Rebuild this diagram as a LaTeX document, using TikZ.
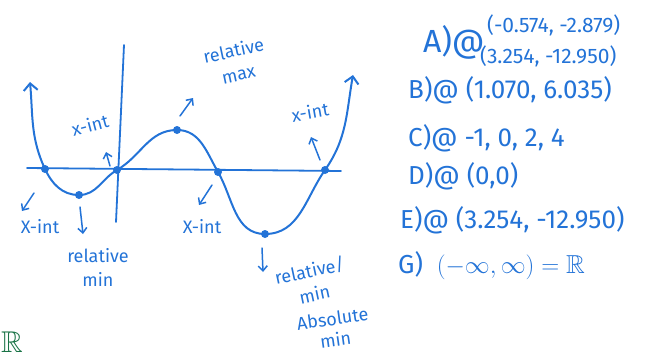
\documentclass[tikz,border=0pt]{standalone}
\usepackage{amssymb}
\usepackage{fontspec}
\setmainfont{Fira Sans}
\usetikzlibrary{arrows.meta}
\definecolor{pen}{RGB}{35,115,215}
\definecolor{greenpen}{RGB}{25,115,70}
\tikzset{
  curve/.style   = {draw=pen, line width=2pt, line cap=round},
  axis/.style    = {draw=pen, line width=1.8pt, line cap=round},
  ptdot/.style   = {circle, fill=pen, inner sep=0pt, minimum size=8pt},
  pointer/.style = {-{Straight Barb[length=5pt,width=9pt]}, draw=pen,
                    line width=1.5pt, line cap=round},
  note/.style    = {text=pen, font=\fontsize{18}{24}\selectfont,
                    align=center, inner sep=0pt},
  ans/.style     = {text=pen, font=\fontsize{26}{30}\selectfont,
                    anchor=west, inner sep=0pt},
}

\begin{document}
\begin{tikzpicture}[x=1pt,y=1pt]
\useasboundingbox (0,0) rectangle (650,-356);
% axes
\coordinate (xl) at (27,-168); \coordinate (xr) at (341,-171);
\coordinate (yt) at (124,-45); \coordinate (yb) at (116,-222);
\draw[axis] (xl) -- (xr);
\draw[axis] (yt) -- (yb);
% points on the graph
\coordinate (tl) at (30,-82); \coordinate (tr) at (353,-75);
\node[ptdot] (xa)  at (45,-169)  {};
\node[ptdot] (mna) at (79,-195)  {};
\node[ptdot] (o)   at (117,-170) {};
\node[ptdot] (mx)  at (177,-130) {};
\node[ptdot] (xb)  at (218,-172) {};
\node[ptdot] (mnb) at (265,-234) {};
\node[ptdot] (xc)  at (325,-170) {};
\draw[curve, {Straight Barb[length=7pt,width=14pt]}-{Straight Barb[length=7pt,width=14pt]}]
  (tl) to[out=-85,in=115] (xa.center) to[out=-65,in=180] (mna.center)
  to[out=0,in=210] (o.center) to[out=30,in=180] (mx.center)
  to[out=0,in=120] (xb.center) to[out=-60,in=180] (mnb.center)
  to[out=0,in=235] (xc.center) to[out=55,in=260] (tr);
% labels
\node[note] (lxa) at (40,-227) {X-int};
\node[note] (lmna) at (98,-267) {relative\\min};
\node[note, rotate=15] (lo) at (90,-125) {x-int};
\node[note, rotate=12] (lmx) at (236,-62) {relative\\max};
\node[note] (lxb) at (202,-227) {X-int};
\node[note, rotate=10] (lxc) at (310,-112) {x-int};
\node[note, rotate=12] (lmnb) at (312,-282) {relative/\\min};
\node[note, rotate=8, font=\fontsize{18}{21}\selectfont] (labs) at (334,-329) {Absolute\\min};
\draw[pointer] ([shift={(-11,-24)}]xa.center) -- ++(-12,-18);
\draw[pointer] ([shift={(1,-12)}]mna.center) -- ++(3,-27);
\draw[pointer] ([shift={(-7,4)}]o.center) -- ++(-4,14);
\draw[pointer] ([shift={(3,14)}]mx.center) -- ++(13,18);
\draw[pointer] ([shift={(-6,-13)}]xb.center) -- ++(-13,-20);
\draw[pointer] ([shift={(-5,10)}]xc.center) -- ++(-9,23);
\draw[pointer] ([shift={(-3,-14)}]mnb.center) -- ++(1,-24);
% answers
\node[ans, font=\fontsize{32}{34}\selectfont] (qa) at (423,-42) {A)@};
\node[ans, font=\fontsize{21}{24}\selectfont] (qa1) at (487,-25) {(-0.574, -2.879)};
\node[ans, font=\fontsize{21}{24}\selectfont] (qa2) at (480,-56) {(3.254, -12.950)};
\node[ans] (qb) at (408,-90)  {B)@ (1.070, 6.035)};
\node[ans] (qc) at (408,-138) {C)@ -1, 0, 2, 4};
\node[ans] (qd) at (408,-176) {D)@ (0,0)};
\node[ans] (qe) at (400,-220) {E)@ (3.254, -12.950)};
\node[ans] (qg) at (398,-266) {G) \ $(-\infty,\infty)=\mathbb{R}$};
\node[text=greenpen, font=\fontsize{30}{30}\selectfont] (rr) at (12,-342) {$\mathbb{R}$};
\end{tikzpicture}
\end{document}
